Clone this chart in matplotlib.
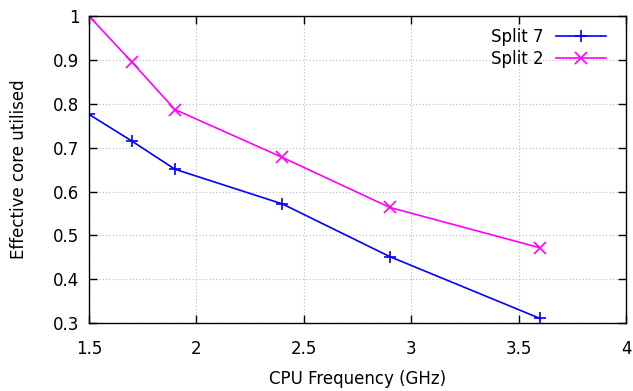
import matplotlib
matplotlib.use("Agg")
import matplotlib.pyplot as plt
from matplotlib.ticker import FuncFormatter

# CPU frequencies (GHz)
freq = [1.5, 1.7, 1.9, 2.4, 2.9, 3.6]
# effective core utilised
split7 = [0.776, 0.715, 0.651, 0.572, 0.452, 0.311]
split2 = [1.0, 0.895, 0.787, 0.678, 0.564, 0.472]

xticks = [1.5, 2, 2.5, 3, 3.5, 4]
yticks = [0.3, 0.4, 0.5, 0.6, 0.7, 0.8, 0.9, 1.0]


def main():
    plt.rcParams['font.family'] = ['DejaVu Sans']
    plt.rcParams['font.size'] = 12

    fig = plt.figure(figsize=(6.33, 3.91), dpi=100)
    ax = fig.add_axes([89 / 633, 1 - 323.3 / 391, (626 - 89) / 633, (323.3 - 16) / 391])

    ax.plot(freq, split7, color='#0000ff', lw=1.2, marker='+', ms=9, mew=1.2, label='Split 7')
    ax.plot(freq, split2, color='#ff00ff', lw=1.2, marker='x', ms=8, mew=1.2, label='Split 2')

    ax.set_xlim(1.5, 4)
    ax.set_ylim(0.3, 1.0)
    ax.set_xticks(xticks)
    ax.set_yticks(yticks)
    fmt = FuncFormatter(lambda v, p: f"{v:g}")
    ax.xaxis.set_major_formatter(fmt)
    ax.yaxis.set_major_formatter(fmt)

    ax.grid(True, color='#b8b8b8', linestyle=(0, (1, 2)), lw=0.8)
    ax.tick_params(direction='in', top=True, right=True, length=6, width=1)
    ax.tick_params(axis='x', pad=12)
    ax.tick_params(axis='y', pad=7)
    for s in ax.spines.values():
        s.set_linewidth(1.0)

    ax.set_xlabel('CPU Frequency (GHz)', labelpad=9)
    ax.set_ylabel('Effective core utilised', labelpad=18)

    ax.legend(loc='upper right', bbox_to_anchor=(606 / 633, 1 - 28 / 391),
              bbox_transform=fig.transFigure, frameon=False, markerfirst=False,
              borderpad=0, borderaxespad=0, handlelength=3.0, handletextpad=0.75,
              labelspacing=0.25)

    fig.savefig('out.png', dpi=100)


if __name__ == "__main__":
    main()
